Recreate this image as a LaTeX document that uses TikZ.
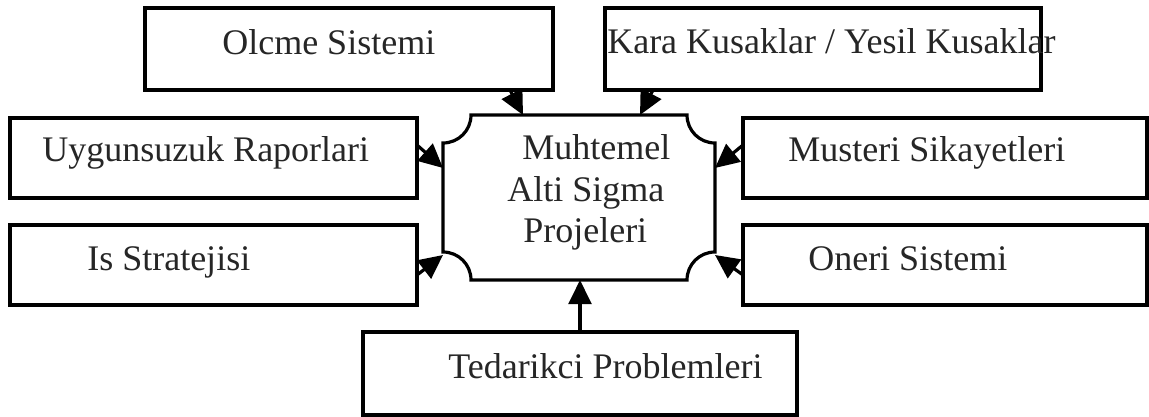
\documentclass[tikz,border=0pt]{standalone}
\usepackage{fontspec}
\setmainfont{Liberation Serif}
\usetikzlibrary{arrows.meta,calc}
\begin{document}
\begin{tikzpicture}[x=0.75pt,y=-0.75pt,
  line/.style={line width=2.4pt, draw=black},
  box/.style={line, rectangle, inner sep=0pt, outer sep=0pt},
  lbl/.style={inner sep=0pt, anchor=base west, text=black!85, font=\fontsize{27}{31}\selectfont},
  arr/.style={line width=2.4pt, -{Triangle[length=18pt,width=17pt]}}]
\useasboundingbox (0,0) rectangle (1149,417);
\fill[white] (0,0) rectangle (1149,417);
% boxes
\node[box, minimum width=306pt, minimum height=61.5pt] (olc) at (349,49) {};
\node[box, minimum width=327pt, minimum height=61.5pt] (kara) at (823,49) {};
\node[box, minimum width=305.25pt, minimum height=60pt] (uyg) at (213.5,158) {};
\node[box, minimum width=305.25pt, minimum height=60pt] (iss) at (213.5,265) {};
\node[box, minimum width=303pt, minimum height=60pt] (mus) at (945,158) {};
\node[box, minimum width=303pt, minimum height=60pt] (one) at (945,265) {};
\node[box, minimum width=325.5pt, minimum height=62.25pt] (ted) at (580,373.5) {};
% centre shape
\node[rectangle, inner sep=0pt, outer sep=0pt, minimum width=204pt, minimum height=123.75pt] (ctr) at (579,197.5) {};
\draw[line] (ctr.north west) ++(28,0) -- ++(216,0)
  .. controls +(0,15.5) and +(-15.5,0) .. ++(28,28)
  -- ++(0,109)
  .. controls +(-15.5,0) and +(0,-15.5) .. ++(-28,28)
  -- ++(-216,0)
  .. controls +(0,-15.5) and +(15.5,0) .. ++(-28,-28)
  -- ++(0,-109)
  .. controls +(15.5,0) and +(0,15.5) .. ++(28,-28)
  -- cycle;
% texts
\node[lbl] (tolc) at (222,55) {Olcme Sistemi};
\node[lbl] (tkara) at (607,54) {Kara Kusaklar / Yesil Kusaklar};
\node[lbl] (tuyg) at (42,162) {Uygunsuzuk Raporlari};
\node[lbl] (tiss) at (87,270) {Is Stratejisi};
\node[lbl] (tmus) at (788,162) {Musteri Sikayetleri};
\node[lbl] (tone) at (808,270) {Oneri Sistemi};
\node[lbl] (tted) at (448,378) {Tedarikci Problemleri};
\node[lbl] (tc1) at (522,160) {Muhtemel};
\node[lbl] (tc2) at (507,201) {Alti Sigma};
\node[lbl] (tc3) at (523,243) {Projeleri};
% connectors
\draw[arr] ($(olc.south)+(161,0)$) -- ($(ctr.north)+(-56,0)$);
\draw[arr] ($(kara.south)+(-170,0)$) -- ($(ctr.north)+(61,0)$);
\draw[arr] ($(uyg.east)+(0,-13)$) -- ($(ctr.west)+(0,-29.5)$);
\draw[arr] ($(iss.east)+(0,10)$) -- ($(ctr.west)+(0,57.5)$);
\draw[arr] ($(mus.west)+(0,-13)$) -- ($(ctr.east)+(0,-29.5)$);
\draw[arr] ($(one.west)+(0,10)$) -- ($(ctr.east)+(0,57.5)$);
\draw[arr] (ted.north) -- (ted.north |- ctr.south);
\end{tikzpicture}
\end{document}
